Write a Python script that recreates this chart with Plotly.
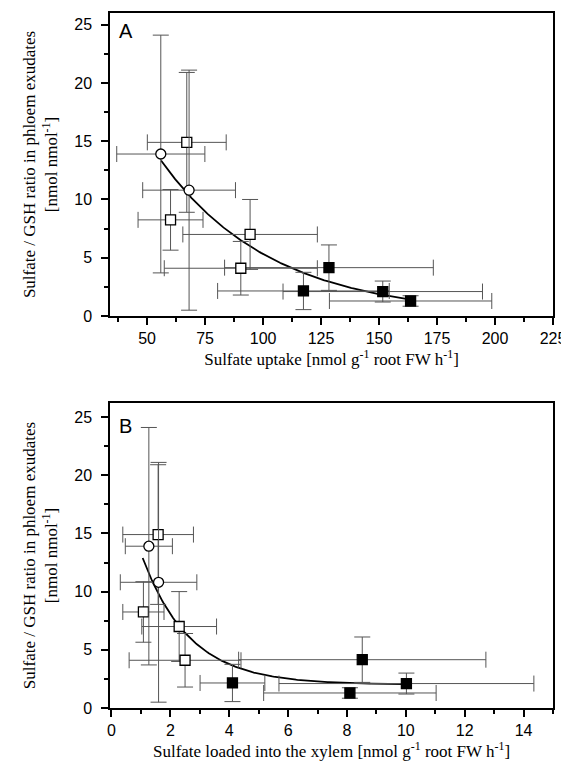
import numpy as np
import plotly.graph_objects as go

# ---------------- data ----------------
# phloem sulfate/GSH ratio (shared by both panels)
circ_y = [13.9, 10.8]
circ_yerr = [10.2, 10.3]
osq_y = [14.9, 8.25, 7.0, 4.1]
osq_yerr = [6.0, 2.6, 3.0, 2.3]
fsq_y = [2.15, 4.15, 2.1, 1.29]
fsq_yerr = [1.6, 1.95, 0.9, 0.45]

# Panel A: sulfate uptake
a_circ_x = [55.9, 68.1]
a_circ_xerr = [19, 20]
a_osq_x = [67.1, 60.1, 94.4, 90.4]
a_osq_xerr = [17, 14, 29, 33]
a_fsq_x = [117.4, 128.4, 151.6, 163.6]
a_fsq_xerr = [37, 45, 43, 35]

# Panel B: sulfate loaded into the xylem
b_circ_x = [1.27, 1.6]
b_circ_xerr = [0.8, 1.3]
b_osq_x = [1.585, 1.085, 2.3, 2.5]
b_osq_xerr = [1.2, 0.7, 1.27, 1.9]
b_fsq_x = [4.11, 8.52, 10.02, 8.1]
b_fsq_xerr = [1.1, 4.2, 4.33, 2.93]

# exponential fits  y = c + A*exp(-k x)
fitA = dict(c=0.0, A=43.0, k=0.0209, x0=56.0, x1=164.6)
fitB = dict(c=2.0, A=21.0, k=0.62, x0=1.06, x1=10.0)

a_xticks = [50, 75, 100, 125, 150, 175, 200, 225]
b_xticks = [0, 2, 4, 6, 8, 10, 12, 14]
y_ticks = [0, 5, 10, 15, 20, 25]

# ---------------- figure ----------------
EB = "#555555"
fig = go.Figure()


def add_panel(xa, ya, cx, cxe, ox, oxe, fx, fxe, fit):
    xs = np.linspace(fit["x0"], fit["x1"], 200)
    ys = fit["c"] + fit["A"] * np.exp(-fit["k"] * xs)
    fig.add_trace(go.Scatter(x=xs, y=ys, mode="lines", xaxis=xa, yaxis=ya,
                             line=dict(color="black", width=1.8), showlegend=False))
    for x, xe, y, ye, sym, fill in [
        (fx, fxe, fsq_y, fsq_yerr, "square", "black"),
        (ox, oxe, osq_y, osq_yerr, "square", "white"),
        (cx, cxe, circ_y, circ_yerr, "circle", "white"),
    ]:
        fig.add_trace(go.Scatter(
            x=x, y=y, mode="markers", xaxis=xa, yaxis=ya, showlegend=False,
            marker=dict(symbol=sym, size=10, color=fill,
                        line=dict(color="black", width=1.3)),
            error_x=dict(type="data", array=xe, color=EB, thickness=1, width=8),
            error_y=dict(type="data", array=ye, color=EB, thickness=1, width=8),
        ))


add_panel("x", "y", a_circ_x, a_circ_xerr, a_osq_x, a_osq_xerr, a_fsq_x, a_fsq_xerr, fitA)
add_panel("x2", "y2", b_circ_x, b_circ_xerr, b_osq_x, b_osq_xerr, b_fsq_x, b_fsq_xerr, fitB)

tickfont = dict(family="Liberation Sans, Arial", size=16, color="black")
titlefont = dict(family="Liberation Serif, Times New Roman", size=17, color="black")
minor_common = dict(ticks="outside", ticklen=4, tickwidth=1.5, tickcolor="black")
common = dict(showline=True, linecolor="black", linewidth=1.5, mirror=True,
              ticks="outside", ticklen=7, tickwidth=1.5, tickcolor="black",
              showgrid=False, zeroline=False, tickfont=tickfont, automargin=False)
ytitle = "Sulfate / GSH ratio in phloem exudates<br>[nmol nmol<sup>-1</sup>]"

# page body adds an 8px offset, so the figure is 8px smaller and margins compensate
fig.update_layout(
    width=561, height=765, paper_bgcolor="white", plot_bgcolor="white",
    margin=dict(l=102, r=16, t=5, b=65),
    xaxis=dict(domain=[0, 1], anchor="y", range=[34, 225], tickvals=a_xticks,
               minor=dict(dtick=12.5, tick0=0, **minor_common),
               title=dict(text="Sulfate uptake [nmol g<sup>-1</sup> root FW h<sup>-1</sup>]",
                          font=titlefont, standoff=4), **common),
    yaxis=dict(domain=[0.564, 1.0], anchor="x", range=[0, 26], tickvals=y_ticks,
               ticklabelstandoff=6,
               minor=dict(dtick=2.5, tick0=0, **minor_common),
               title=dict(text=ytitle, font=titlefont, standoff=12), **common),
    xaxis2=dict(domain=[0, 1], anchor="y2", range=[-0.05, 15], tickvals=b_xticks,
                minor=dict(dtick=1, tick0=0, **minor_common),
                title=dict(text="Sulfate loaded into the xylem [nmol g<sup>-1</sup> root FW h<sup>-1</sup>]",
                           font=titlefont, standoff=4), **common),
    yaxis2=dict(domain=[0, 0.4388], anchor="x2", range=[0, 26.2], tickvals=y_ticks,
                ticklabelstandoff=6,
                minor=dict(dtick=2.5, tick0=0, **minor_common),
                title=dict(text=ytitle, font=titlefont, standoff=12), **common),
    annotations=[
        dict(text="A", xref="x domain", yref="y domain", x=0.036, y=0.94, showarrow=False,
             xanchor="center", yanchor="middle",
             font=dict(family="Liberation Sans, Arial", size=20, color="black")),
        dict(text="B", xref="x2 domain", yref="y2 domain", x=0.034, y=0.926, showarrow=False,
             xanchor="center", yanchor="middle",
             font=dict(family="Liberation Sans, Arial", size=20, color="black")),
    ],
)

fig.write_html("out.html")
